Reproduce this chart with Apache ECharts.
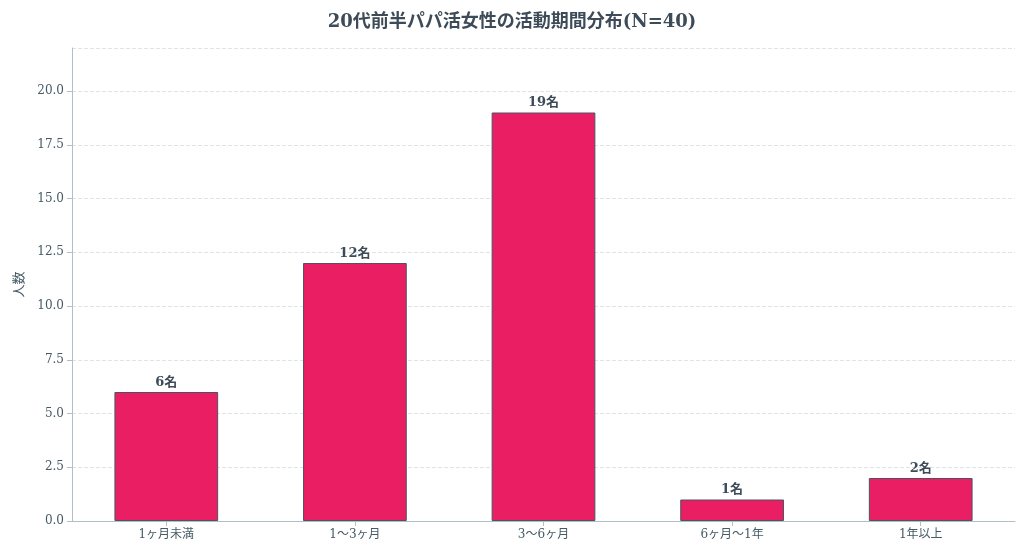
<!DOCTYPE html>
<html><head><meta charset="utf-8">
<script src="https://cdn.jsdelivr.net/npm/echarts@6/dist/echarts.min.js"></script>
<style>html,body{margin:0;padding:0;background:#fff}#c{width:1024px;height:556px}</style>
</head><body><div id="c"></div>
<script>
const categories = ['1ヶ月未満','1〜3ヶ月','3〜6ヶ月','6ヶ月〜1年','1年以上'];
const values = [6, 12, 19, 1, 2];
const titleText = '20代前半パパ活女性の活動期間分布(N=40)';
const ff = '"DejaVu Serif","Noto Sans CJK JP",serif';
const chart = echarts.init(document.getElementById('c'));
chart.setOption({
  animation:false,
  title:{text:titleText,left:'center',top:8,textStyle:{fontFamily:ff,fontSize:18,fontWeight:'bold',color:'#3d4b58'}},
  grid:{left:72,right:9,top:48,bottom:35},
  xAxis:{type:'category',data:categories,
    axisLine:{lineStyle:{color:'#b0bec5'}},axisTick:{show:true,alignWithLabel:true,lineStyle:{color:'#b0bec5'}},
    axisLabel:{fontFamily:ff,fontSize:12,color:'#455a64',margin:8}},
  yAxis:{type:'value',min:0,max:22,interval:2.5,name:'人数',nameLocation:'middle',nameGap:46,
    nameTextStyle:{fontFamily:ff,fontSize:13,color:'#455a64'},
    axisLine:{show:true,lineStyle:{color:'#b0bec5'}},axisTick:{show:true,lineStyle:{color:'#b0bec5'}},
    axisLabel:{fontFamily:ff,fontSize:12,color:'#455a64',showMaxLabel:false,formatter:v=>v>20?'':v.toFixed(1)},
    splitLine:{lineStyle:{type:'dashed',color:'#e0e4e8'}}},
  series:[{type:'bar',data:values,barWidth:'55%',
    itemStyle:{color:'#e91e63',borderColor:'#4a5560',borderWidth:1},
    label:{show:true,position:'top',formatter:p=>p.value+'名',fontFamily:ff,fontSize:13,fontWeight:'bold',color:'#3d4b58',distance:3}}]
});
</script></body></html>
